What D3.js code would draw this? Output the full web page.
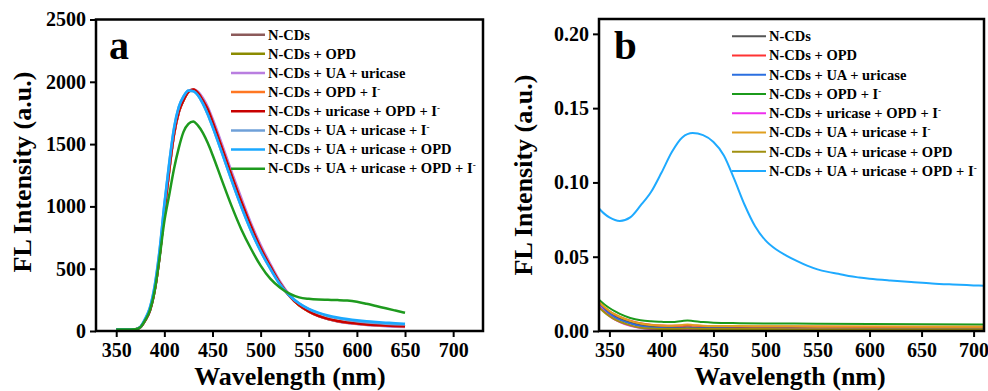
<!DOCTYPE html>
<html>
<head>
<meta charset="utf-8">
<script src="https://cdn.jsdelivr.net/npm/d3@7"></script>
<style>
  html, body { margin: 0; padding: 0; background: #fff; }
  svg { display: block; }
  svg text { font-family: "Liberation Serif", "Times New Roman", Times, "DejaVu Serif", serif; font-weight: bold; }
</style>
</head>
<body>
<div id="chart"></div>
<script>
// ---- data ----

const labels = [
    'N-CDs',
    'N-CDs + OPD',
    'N-CDs + UA + uricase',
    'N-CDs + OPD + I-',
    'N-CDs + uricase + OPD + I-',
    'N-CDs + UA + uricase + I-',
    'N-CDs + UA + uricase + OPD',
    'N-CDs + UA + uricase + OPD + I-'
];

const xTicks = [350, 400, 450, 500, 550, 600, 650, 700];
const yTicksA = [0, 500, 1000, 1500, 2000, 2500];
const yTicksB = [0, 0.05, 0.10, 0.15, 0.20];

// panel a (every series on one wavelength grid)
const waveA = [350, 360, 370, 375, 380, 385, 390, 395, 400, 405, 410, 415, 420, 425, 430, 435, 440, 445, 450,
    460, 470, 480, 490, 500, 510, 520, 530, 540, 550, 560, 570, 580, 590, 600, 610, 620, 630, 640, 650];

const aNCDs = [12, 12, 14, 29, 84, 163, 328, 597, 955, 1285, 1575, 1755, 1853, 1918, 1936, 1908, 1852, 1778, 1678,
    1463, 1243, 1033, 838, 663, 518, 384, 281, 207, 157, 121, 96, 79, 67, 58, 51, 46, 42, 39, 36];
const aOPD = [12, 12, 14, 30, 85, 165, 329, 599, 958, 1288, 1578, 1758, 1854, 1919, 1937, 1909, 1853, 1779, 1679,
    1464, 1244, 1034, 839, 664, 519, 384, 281, 207, 157, 121, 96, 79, 67, 59, 52, 47, 43, 40, 37];
const aUAUricase = [12, 12, 14, 29, 83, 160, 322, 590, 945, 1275, 1570, 1755, 1856, 1922, 1940, 1920, 1870, 1800, 1705,
    1495, 1275, 1065, 865, 690, 540, 400, 290, 212, 158, 120, 95, 77, 65, 56, 49, 44, 39, 35, 32];
const aOPDI = [12, 12, 14, 30, 85, 165, 330, 600, 960, 1290, 1580, 1760, 1855, 1920, 1938, 1910, 1850, 1780, 1680,
    1465, 1245, 1035, 840, 665, 520, 385, 282, 208, 158, 122, 97, 80, 68, 60, 53, 48, 44, 41, 39];
const aUricaseOPDI = [12, 12, 14, 30, 85, 165, 330, 600, 960, 1290, 1580, 1760, 1855, 1920, 1938, 1910, 1850, 1780, 1680,
    1465, 1245, 1035, 840, 665, 520, 385, 282, 208, 158, 122, 97, 80, 68, 60, 53, 48, 44, 41, 39];
const aUAUricaseI = [12, 12, 14, 32, 95, 185, 360, 640, 1010, 1340, 1620, 1795, 1882, 1928, 1925, 1890, 1825, 1740, 1640,
    1425, 1205, 995, 805, 640, 500, 375, 284, 220, 175, 143, 119, 102, 89, 79, 71, 64, 59, 55, 52];
const aUAUricaseOPD = [12, 12, 14, 33, 98, 190, 368, 650, 1020, 1350, 1630, 1800, 1885, 1930, 1925, 1890, 1825, 1740, 1640,
    1425, 1205, 995, 805, 640, 500, 375, 285, 222, 178, 147, 124, 108, 96, 86, 78, 72, 67, 62, 58];
const aAll = [12, 12, 14, 30, 85, 165, 325, 585, 880, 1090, 1300, 1470, 1600, 1662, 1682, 1648, 1590, 1510, 1415,
    1205, 1000, 815, 660, 525, 420, 350, 300, 270, 258, 252, 250, 248, 244, 234, 218, 200, 182, 164, 146];

// panel b
const waveB = [340, 345, 350, 355, 360, 370, 380, 390, 400, 410, 420, 425, 430, 440, 450, 475, 500, 550, 600, 650, 710];

const bNCDs = [0.0180, 0.0150, 0.0122, 0.0100, 0.0083, 0.0058, 0.0040, 0.0030, 0.0025, 0.0023, 0.0024, 0.0025, 0.0024,
    0.0022, 0.0021, 0.0020, 0.0020, 0.0019, 0.0018, 0.0018, 0.0017];
const bOPD = [0.0190, 0.0160, 0.0133, 0.0112, 0.0095, 0.0070, 0.0052, 0.0042, 0.0037, 0.0035, 0.0036, 0.0038, 0.0037,
    0.0034, 0.0032, 0.0031, 0.0030, 0.0030, 0.0029, 0.0028, 0.0028];
const bUAUricase = [0.0175, 0.0143, 0.0115, 0.0092, 0.0075, 0.0050, 0.0032, 0.0022, 0.0018, 0.0016, 0.0017, 0.0018, 0.0017,
    0.0016, 0.0017, 0.0015, 0.0015, 0.0014, 0.0013, 0.0013, 0.0012];
const bOPDI = [0.0210, 0.0180, 0.0155, 0.0133, 0.0115, 0.0088, 0.0072, 0.0065, 0.0062, 0.0060, 0.0068, 0.0071, 0.0068,
    0.0060, 0.0056, 0.0053, 0.0051, 0.0049, 0.0047, 0.0045, 0.0043];
const bUricaseOPDI = [0.0168, 0.0132, 0.0102, 0.0078, 0.0060, 0.0035, 0.0020, 0.0014, 0.0012, 0.0011, 0.0012, 0.0013, 0.0012,
    0.0011, 0.0011, 0.0010, 0.0010, 0.0010, 0.0009, 0.0009, 0.0009];
const bUAUricaseI = [0.0195, 0.0163, 0.0135, 0.0113, 0.0096, 0.0068, 0.0050, 0.0041, 0.0037, 0.0035, 0.0040, 0.0043, 0.0041,
    0.0036, 0.0034, 0.0033, 0.0032, 0.0031, 0.0030, 0.0029, 0.0028];
const bUAUricaseOPD = [0.0160, 0.0127, 0.0100, 0.0078, 0.0062, 0.0038, 0.0022, 0.0016, 0.0014, 0.0013, 0.0015, 0.0016, 0.0015,
    0.0014, 0.0014, 0.0013, 0.0013, 0.0012, 0.0012, 0.0012, 0.0012];

const waveSky = [340, 345, 350, 360, 370, 380, 390, 400, 410, 420, 430, 440, 450, 460, 470, 480, 490, 500, 510, 520,
    530, 540, 550, 560, 570, 580, 590, 600, 620, 640, 660, 680, 700, 710];
const bAll = [0.0825, 0.0790, 0.0765, 0.0741, 0.0765, 0.0845, 0.0935, 0.1065, 0.1205, 0.1303, 0.1332, 0.1318, 0.1272,
    0.1182, 0.1022, 0.0848, 0.0705, 0.0610, 0.0550, 0.0508, 0.0472, 0.0440, 0.0415, 0.0398, 0.0385, 0.0370, 0.0360,
    0.0352, 0.0340, 0.0330, 0.0320, 0.0313, 0.0307, 0.0304];

const colorsA = ['#8c5a5a', '#8b8b00', '#b97ee0', '#ff7722', '#c80000', '#6fa0d8', '#1aa8ff', '#1e9a1e'];
const colorsB = ['#555555', '#ff3333', '#2b6fe0', '#1b9a1b', '#ee30ee', '#e0a020', '#a09010', '#1eaaff'];

// ---- drawing ----

const width = 988;
const height = 391;
const serif = '"Liberation Serif", "Times New Roman", Times, "DejaVu Serif", serif';

const svg = d3.select('#chart')
    .append('svg')
    .attr('width', width)
    .attr('height', height)
    .attr('font-family', serif)
    .attr('font-weight', 'bold');

function zip(xs, ys) {
    return xs.map((x, i) => ({ x: x, y: ys[i] }));
}

function drawPanel(cfg) {
    const xScale = d3.scaleLinear().domain(cfg.xDomain).range([cfg.left, cfg.right]);
    const yScale = d3.scaleLinear().domain(cfg.yDomain).range([cfg.bottom, cfg.top]);

    const g = svg.append('g').classed('panel-' + cfg.name, true);

    const clipId = 'clip-' + cfg.name;
    g.append('clipPath').attr('id', clipId)
        .append('rect')
        .attr('x', cfg.left).attr('y', cfg.top)
        .attr('width', cfg.right - cfg.left).attr('height', cfg.bottom - cfg.top);

    // spectra
    const line = d3.line()
        .x(d => xScale(d.x))
        .y(d => yScale(d.y))
        .curve(d3.curveMonotoneX);

    g.append('g')
        .attr('clip-path', `url(#${clipId})`)
        .selectAll('path')
        .data(cfg.series)
        .enter()
        .append('path')
        .attr('fill', 'none')
        .attr('stroke', (d, i) => cfg.colors[i])
        .attr('stroke-width', cfg.lineWidth)
        .attr('stroke-linejoin', 'round')
        .attr('d', d => line(d));

    // axes
    const xAxis = d3.axisBottom(xScale)
        .tickValues(xTicks)
        .tickSizeInner(6).tickSizeOuter(0).tickPadding(6)
        .tickFormat(d3.format('d'));
    const yAxis = d3.axisLeft(yScale)
        .tickValues(cfg.yTicks)
        .tickSizeInner(6).tickSizeOuter(0).tickPadding(4)
        .tickFormat(cfg.yFormat);

    const gx = g.append('g').attr('transform', `translate(0,${cfg.bottom})`).call(xAxis);
    const gy = g.append('g').attr('transform', `translate(${cfg.left},0)`).call(yAxis);
    [gx, gy].forEach(a => {
        a.attr('font-family', serif).attr('font-size', 20).attr('font-weight', 'bold');
        a.select('.domain').remove();
        a.selectAll('.tick line').attr('stroke', '#000').attr('stroke-width', 2);
        a.selectAll('.tick text').attr('fill', '#000');
    });

    // frame
    g.append('rect')
        .attr('x', cfg.left).attr('y', cfg.top)
        .attr('width', cfg.right - cfg.left).attr('height', cfg.bottom - cfg.top)
        .attr('fill', 'none')
        .attr('stroke', '#000')
        .attr('stroke-width', 2.5);

    // titles
    g.append('text')
        .attr('x', cfg.xTitleX).attr('y', 385)
        .attr('text-anchor', 'middle')
        .attr('font-size', 26)
        .text('Wavelength (nm)');

    g.append('text')
        .attr('transform', `translate(${cfg.yTitleX},${cfg.yTitleY}) rotate(-90)`)
        .attr('text-anchor', 'middle')
        .attr('font-size', 26)
        .text('FL Intensity (a.u.)');

    g.append('text')
        .attr('x', cfg.letterX).attr('y', 59)
        .attr('font-size', cfg.letterSize)
        .text(cfg.name);

    // legend
    const legend = g.append('g').classed('legend', true);
    labels.forEach((lab, i) => {
        const y = cfg.legendY + i * cfg.legendStep;
        legend.append('line')
            .attr('x1', cfg.legendX).attr('x2', cfg.legendX + 34)
            .attr('y1', y).attr('y2', y)
            .attr('stroke', cfg.colors[i])
            .attr('stroke-width', cfg.lineWidth);
        const t = legend.append('text')
            .attr('x', cfg.legendX + 37).attr('y', y + 4.8)
            .attr('font-size', 14.5);
        if (lab.endsWith('I-')) {
            t.append('tspan').text(lab.slice(0, -1));
            t.append('tspan').attr('dy', -5).attr('font-size', 9).text('-');
        } else {
            t.text(lab);
        }
    });
}

drawPanel({
    name: 'a',
    left: 96, right: 483, top: 19.5, bottom: 331,
    xDomain: [329, 731], yDomain: [0, 2500],
    yTicks: yTicksA, yFormat: d3.format('d'),
    series: [aNCDs, aOPD, aUAUricase, aOPDI, aUricaseOPDI, aUAUricaseI, aUAUricaseOPD, aAll].map(s => zip(waveA, s)),
    colors: colorsA, lineWidth: 2.5,
    xTitleX: 290, yTitleX: 31, yTitleY: 172,
    letterX: 109, letterSize: 40,
    legendX: 231, legendY: 34.7, legendStep: 19.14
});

drawPanel({
    name: 'b',
    left: 599, right: 984, top: 19, bottom: 331,
    xDomain: [340, 710], yDomain: [0, 0.21],
    yTicks: yTicksB, yFormat: d3.format('.2f'),
    series: [bNCDs, bOPD, bUAUricase, bOPDI, bUricaseOPDI, bUAUricaseI, bUAUricaseOPD].map(s => zip(waveB, s))
        .concat([zip(waveSky, bAll)]),
    colors: colorsB, lineWidth: 2,
    xTitleX: 790, yTitleX: 532, yTitleY: 175,
    letterX: 614, letterSize: 41,
    legendX: 732, legendY: 36.3, legendStep: 19.24
});
</script>
</body>
</html>
